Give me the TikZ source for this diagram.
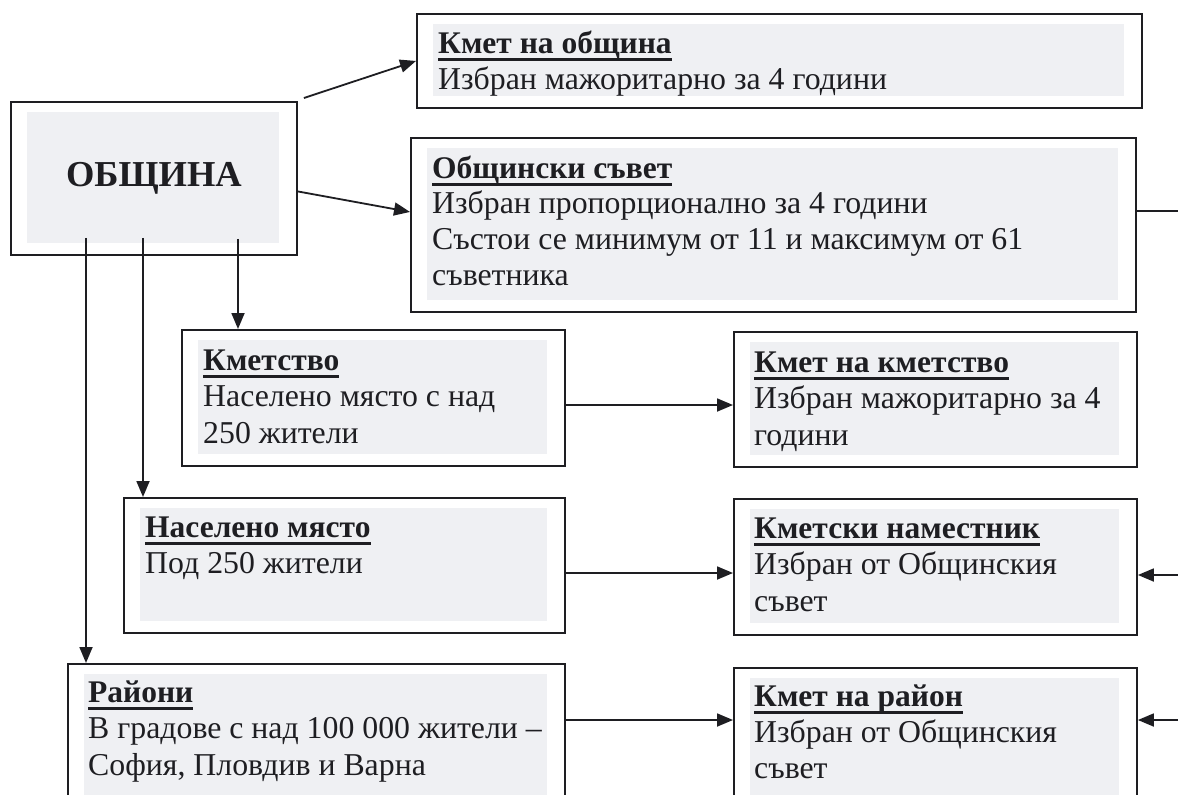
\documentclass[tikz,border=0pt]{standalone}
\usepackage{fontspec}
\setmainfont{Liberation Serif}
\usetikzlibrary{arrows.meta}
\definecolor{ink}{RGB}{30,30,34}
\definecolor{fillg}{RGB}{239,240,243}
\tikzset{
  box/.style={draw=ink, line width=1.9pt, fill=white, inner sep=0pt, anchor=north west,
    path picture={\fill[fillg] ([shift={(16pt,-10pt)}]path picture bounding box.north west)
      rectangle ([shift={(-18pt,12pt)}]path picture bounding box.south east);}},
  txt/.style={anchor=base west, inner sep=0pt, text=ink, font=\fontsize{31.8}{36}\selectfont},
  ttl/.style={txt, font=\fontsize{31.5}{36}\selectfont\bfseries},
  arr/.style={draw=ink, line width=1.8pt, -{Triangle[length=16pt,width=13pt]}},
  ln/.style={draw=ink, line width=1.8pt}
}
\newsavebox{\ttlbox}
\newcommand{\ttltext}[1]{\sbox{\ttlbox}{#1}\rlap{\rule[-7.5pt]{\wd\ttlbox}{2.8pt}}\usebox{\ttlbox}}
\begin{document}
\begin{tikzpicture}[x=1pt,y=-1pt]
\useasboundingbox (0,0) rectangle (1178,795);
\clip (0,0) rectangle (1178,795);
\fill[white] (0,0) rectangle (1178,795);

% boxes
\node[box, minimum width=286pt, minimum height=153pt, font=\fontsize{36.5}{40}\selectfont\bfseries, text=ink] (obshtina) at (10,101) {ОБЩИНА};
\node[box, minimum width=725pt, minimum height=94pt] (kmetob) at (416,13) {};
\node[box, minimum width=725pt, minimum height=174pt] (sovet) at (410,137) {};
\node[box, minimum width=383pt, minimum height=136pt] (kmetstvo) at (181,329) {};
\node[box, minimum width=403pt, minimum height=135pt] (kmetkm) at (733,331) {};
\node[box, minimum width=441pt, minimum height=135pt] (naseleno) at (123,497) {};
\node[box, minimum width=403pt, minimum height=136pt] (namestnik) at (733,498) {};
\node[box, minimum width=497pt, minimum height=170pt] (rayoni) at (67,663) {};
\node[box, minimum width=403pt, minimum height=170pt] (kmetray) at (733,667) {};

% texts
\node[ttl] (kmetob-t) at (438,53) {\ttltext{Кмет на община}};
\node[txt] (kmetob-1) at (438,89) {Избран мажоритарно за 4 години};

\node[ttl] (sovet-t) at (432,178) {\ttltext{Общински съвет}};
\node[txt] (sovet-1) at (432,213) {Избран пропорционално за 4 години};
\node[txt] (sovet-2) at (432,249) {Състои се минимум от 11 и максимум от 61};
\node[txt] (sovet-3) at (432,285) {съветника};

\node[ttl] (kmetstvo-t) at (203,370) {\ttltext{Кметство}};
\node[txt] (kmetstvo-1) at (203,406) {Населено място с над};
\node[txt] (kmetstvo-2) at (203,443) {250 жители};

\node[ttl] (kmetkm-t) at (754,372) {\ttltext{Кмет на кметство}};
\node[txt] (kmetkm-1) at (754,408) {Избран мажоритарно за 4};
\node[txt] (kmetkm-2) at (754,445) {години};

\node[ttl] (naseleno-t) at (145,537) {\ttltext{Населено място}};
\node[txt] (naseleno-1) at (145,573) {Под 250 жители};

\node[ttl] (namestnik-t) at (754,538) {\ttltext{Кметски наместник}};
\node[txt] (namestnik-1) at (754,574) {Избран от Общинския};
\node[txt] (namestnik-2) at (754,611) {съвет};

\node[ttl] (rayoni-t) at (88,702) {\ttltext{Райони}};
\node[txt] (rayoni-1) at (88,738) {В градове с над 100 000 жители –};
\node[txt] (rayoni-2) at (88,775) {София, Пловдив и Варна};

\node[ttl] (kmetray-t) at (754,706) {\ttltext{Кмет на район}};
\node[txt] (kmetray-1) at (754,742) {Избран от Общинския};
\node[txt] (kmetray-2) at (754,778) {съвет};

% connectors from ОБЩИНА
\draw[arr] ([shift={(6,-3)}]obshtina.north east) -- (kmetob.west);
\draw[arr] ([shift={(0,13)}]obshtina.east) -- ([shift={(0,-13)}]sovet.west);
\coordinate (o1) at ([shift={(76,-18)}]obshtina.south west);
\coordinate (o2) at ([shift={(133,-18)}]obshtina.south west);
\coordinate (o3) at ([shift={(228,-17)}]obshtina.south west);
\draw[arr] (o1) -- (o1 |- rayoni.north);
\draw[arr] (o2) -- (o2 |- naseleno.north);
\draw[arr] (o3) -- (o3 |- kmetstvo.north);

% horizontal arrows
\coordinate (h1) at (kmetstvo.east |- 0,405);
\coordinate (h2) at (naseleno.east |- 0,573);
\coordinate (h3) at (rayoni.east |- 0,720);
\draw[arr] (h1) -- (h1 -| kmetkm.west);
\draw[arr] (h2) -- (h2 -| namestnik.west);
\draw[arr] (h3) -- (h3 -| kmetray.west);

% right bus from Общински съвет
\coordinate (r1) at (1200,211);
\coordinate (r2) at (1200,575);
\coordinate (r3) at (1200,720);
\draw[ln] (r1 -| sovet.east) -- (r1) -- (r3);
\draw[arr] (r2) -- (r2 -| namestnik.east);
\draw[arr] (r3) -- (r3 -| kmetray.east);
\end{tikzpicture}
\end{document}
